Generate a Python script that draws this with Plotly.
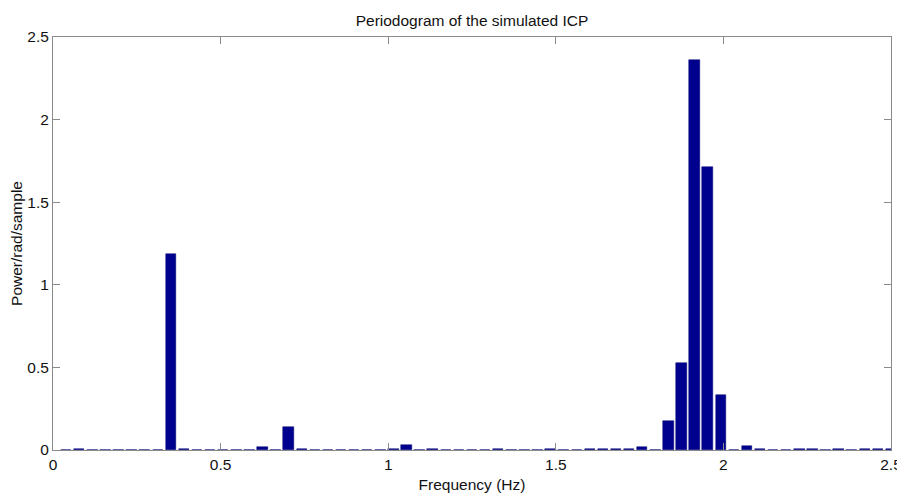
import plotly.graph_objects as go

# Frequency resolution of the periodogram (Hz per bin) and bin indices shown
freq_step = 0.0390625
bin_index = list(range(1, 65))

power = [
    0.000, 0.008, 0.002, 0.002, 0.002, 0.002, 0.002, 0.002,   # 1-8
    1.186, 0.006, 0.002, 0.002, 0.002, 0.002, 0.002, 0.018,   # 9-16
    0.002, 0.139, 0.008, 0.002, 0.002, 0.002, 0.002, 0.002,   # 17-24
    0.002, 0.004, 0.030, 0.003, 0.007, 0.003, 0.003, 0.003,   # 25-32
    0.002, 0.006, 0.002, 0.002, 0.002, 0.006, 0.002, 0.002,   # 33-40
    0.008, 0.006, 0.005, 0.004, 0.016, 0.002, 0.176, 0.527,   # 41-48
    2.360, 1.713, 0.333, 0.002, 0.026, 0.008, 0.002, 0.002,   # 49-56
    0.007, 0.007, 0.002, 0.005, 0.002, 0.004, 0.004, 0.004,   # 57-64
]

frequencies = [k * freq_step for k in bin_index]

x_ticks = [0, 0.5, 1, 1.5, 2, 2.5]
y_ticks = [0, 0.5, 1, 1.5, 2, 2.5]

font_family = "Liberation Sans, Arial, Helvetica, sans-serif"
fsize = 15.5

fig = go.Figure(
    go.Bar(
        x=frequencies,
        y=power,
        width=0.8 * freq_step,
        marker=dict(color="#00008F", line=dict(color="#000070", width=0.5)),
    )
)

axis_common = dict(
    showgrid=False,
    zeroline=False,
    showline=True,
    linecolor="#8a8a8a",
    linewidth=1,
    mirror="ticks",
    ticks="inside",
    ticklen=7,
    tickcolor="#8a8a8a",
    automargin=False,
    tickfont=dict(family=font_family, size=fsize, color="#111"),
)

fig.update_layout(
    width=897,
    height=487,
    margin=dict(l=45, r=14, t=29, b=45),
    paper_bgcolor="white",
    plot_bgcolor="white",
    showlegend=False,
    bargap=0,
    title=dict(
        text="Periodogram of the simulated ICP",
        x=0.5, xref="paper", xanchor="center",
        y=1, yref="paper", yanchor="bottom", pad=dict(b=11),
        font=dict(family=font_family, size=fsize, color="#111"),
    ),
    xaxis=dict(
        range=[0, 2.5],
        tickvals=x_ticks,
        title=dict(text="Frequency (Hz)", standoff=7,
                   font=dict(family=font_family, size=fsize, color="#111")),
        **axis_common,
    ),
    yaxis=dict(
        range=[0, 2.5],
        tickvals=y_ticks,
        title=dict(text="Power/rad/sample", standoff=3,
                   font=dict(family=font_family, size=fsize, color="#111")),
        **axis_common,
    ),
)

fig.write_html("out.html")
